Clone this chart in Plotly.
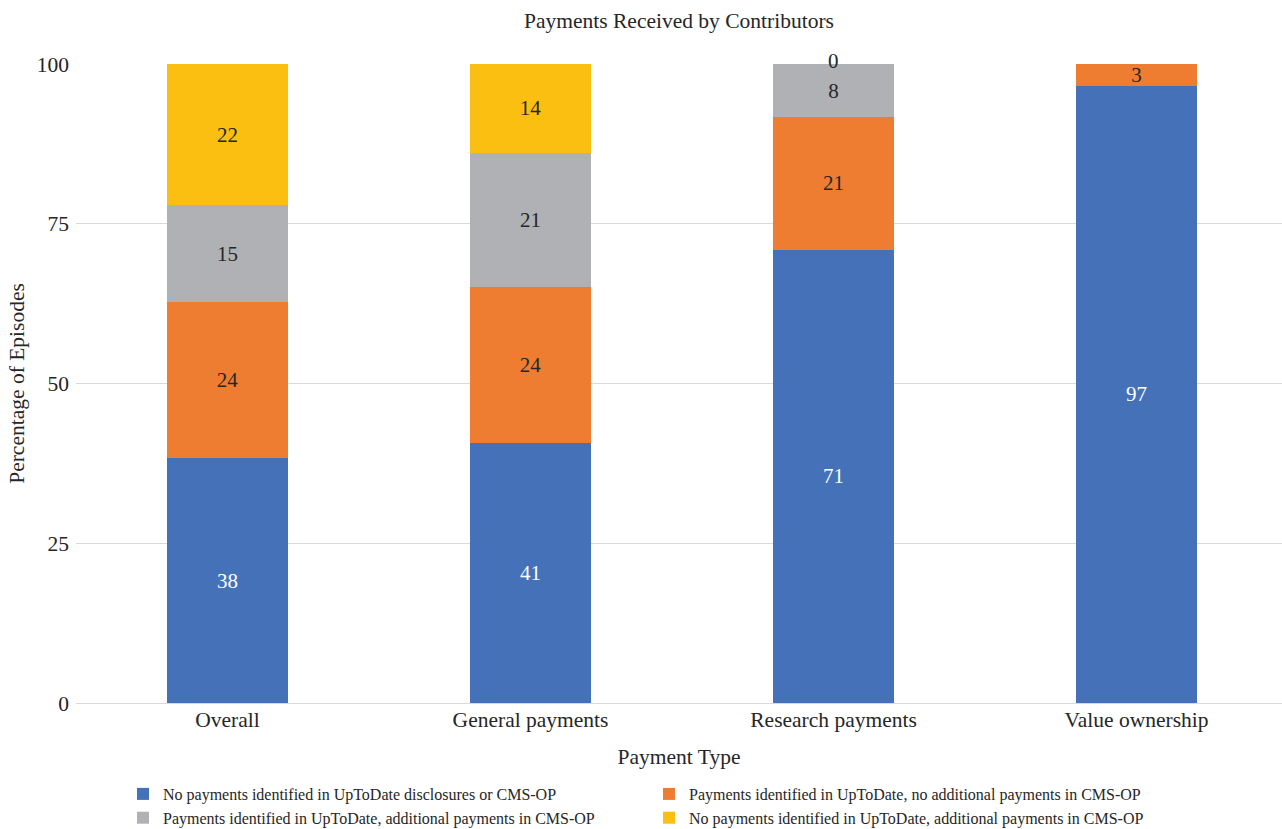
import plotly.graph_objects as go

categories = ["Overall", "General payments", "Research payments", "Value ownership"]

series_names = [
    "No payments identified in UpToDate disclosures or CMS-OP",
    "Payments identified in UpToDate, no additional payments in CMS-OP",
    "Payments identified in UpToDate, additional payments in CMS-OP",
    "No payments identified in UpToDate, additional payments in CMS-OP",
]

no_payments_both = [38.3, 40.7, 70.9, 96.6]
uptodate_no_additional = [24.4, 24.4, 20.8, 3.4]
uptodate_additional = [15.2, 21.0, 8.3, None]
no_uptodate_additional = [22.1, 13.9, 0.0, None]

y_ticks = [0, 25, 50, 75, 100]

colors = ["#4571B9", "#EE7D31", "#B0B1B4", "#FBBF12"]
text_colors = ["#FFFFFF", "#262626", "#262626", "#262626"]

FONT = "Liberation Serif, Times New Roman, serif"
FS = 21.5

fig = go.Figure()
all_series = [no_payments_both, uptodate_no_additional, uptodate_additional, no_uptodate_additional]
for i, (name, vals) in enumerate(zip(series_names, all_series)):
    fig.add_trace(go.Bar(
        x=categories,
        y=vals,
        name=name,
        marker=dict(color=colors[i], line=dict(width=0)),
        texttemplate="%{y:.0f}",
        textposition="inside",
        insidetextanchor="middle",
        textangle=0,
        textfont=dict(family=FONT, size=21, color=text_colors[i]),
        constraintext="none",
        cliponaxis=False,
        hoverinfo="x+y+name",
    ))

# Labels for zero-height segments (drawn at the top of their stack)
for j, cat in enumerate(categories):
    running = 0.0
    for vals in all_series:
        v = vals[j]
        if v is None:
            continue
        if v == 0:
            fig.add_annotation(
                x=cat, y=running, xref="x", yref="y",
                text=f"{v:.0f}", showarrow=False,
                yanchor="middle", yshift=3,
                font=dict(family=FONT, size=21, color="#262626"),
            )
        running += v

fig.update_layout(
    barmode="stack",
    bargap=0.6,
    width=1282,
    height=829,
    margin=dict(l=76, r=0, t=64, b=126),
    paper_bgcolor="white",
    plot_bgcolor="white",
    font=dict(family=FONT, size=FS, color="#262626"),
    title=dict(
        text="Payments Received by Contributors",
        x=0.5, xref="paper", xanchor="center",
        y=1 - 20 / 829, yref="container", yanchor="middle",
        font=dict(family=FONT, size=FS, color="#262626"),
    ),
    xaxis=dict(
        range=[-0.5, 3.48],
        showgrid=False,
        showline=False,
        zeroline=False,
        ticks="",
        ticklabelstandoff=1,
        tickfont=dict(family=FONT, size=FS, color="#262626"),
        title=dict(text="Payment Type", font=dict(family=FONT, size=FS, color="#262626"), standoff=18),
    ),
    yaxis=dict(
        range=[0, 100],
        tickvals=y_ticks,
        ticktext=[str(t) for t in y_ticks],
        showgrid=True,
        gridcolor="#D9D9D9",
        gridwidth=1,
        zeroline=True,
        zerolinecolor="#D9D9D9",
        zerolinewidth=1,
        showline=False,
        ticks="",
        ticklabelstandoff=6,
        tickfont=dict(family=FONT, size=FS, color="#262626"),
        title=dict(text="Percentage of Episodes", font=dict(family=FONT, size=FS, color="#262626"), standoff=6),
    ),
    legend=dict(
        orientation="h",
        x=(123 - 76) / 1206, xanchor="left",
        y=1 - 777 / 829, yref="container", yanchor="top",
        entrywidth=481, entrywidthmode="pixels",
        font=dict(family=FONT, size=16, color="#262626"),
        traceorder="normal",
        itemclick=False,
        tracegroupgap=0,
    ),
    showlegend=True,
    uniformtext=dict(mode=False),
)

fig.write_html("out.html")
